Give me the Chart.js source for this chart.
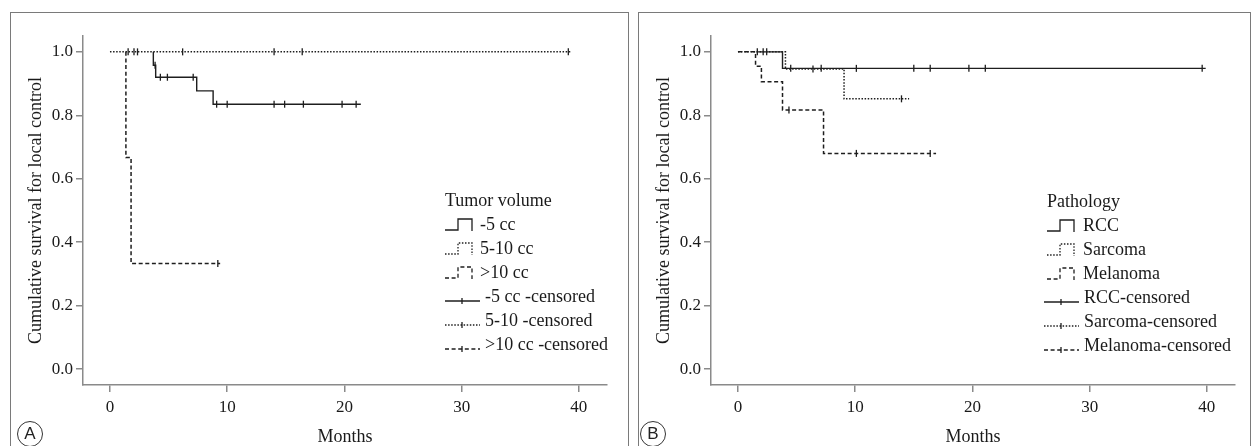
<!DOCTYPE html>
<html>
<head>
<meta charset="utf-8">
<script src="https://cdn.jsdelivr.net/npm/chart.js@4.4.1/dist/chart.umd.min.js"></script>
<style>
  html, body { margin: 0; padding: 0; background: #fff; }
  body { width: 1253px; height: 446px; position: relative; overflow: hidden; }
  .frame { position: absolute; top: 12px; height: 460px; border: 1px solid #7a7a7a; }
  .tag { position: absolute; top: 421px; width: 24px; height: 24px; border: 1px solid #333; border-radius: 50%;
         font: 17px "Liberation Sans", Arial, sans-serif; text-align: center; line-height: 24px; color: #222; }
  canvas { position: absolute; top: 0; }
</style>
</head>
<body>
<div class="frame" style="left:10px;width:617px"></div>
<div class="frame" style="left:638px;width:611px"></div>
<canvas id="chartA" width="630" height="446" style="left:0"></canvas>
<canvas id="chartB" width="623" height="446" style="left:630px"></canvas>
<div class="tag" style="left:17px">A</div>
<div class="tag" style="left:640px">B</div>
<script>
// Axis ticks
const monthTicks = [0, 10, 20, 30, 40];
const survivalTicks = [0, 0.2, 0.4, 0.6, 0.8, 1.0];

// Panel A - tumor volume
const volumeTitle = 'Tumor volume';
const volumeGroups = ['-5 cc', '5-10 cc', '>10 cc'];
const volumeCensorLabels = ['-5 cc -censored', '5-10 -censored', '>10 cc -censored'];

const vol5Months = [3.7, 3.7, 3.9, 7.4, 8.8, 21.4];
const vol5Surv = [1.0, 0.958, 0.92, 0.877, 0.835, 0.835];
const vol5CensorMonths = [3.85, 4.3, 4.9, 7.1, 9.1, 10.0, 14.0, 14.9, 16.5, 19.8, 21.0];
const vol5CensorSurv = [0.958, 0.92, 0.92, 0.92, 0.835, 0.835, 0.835, 0.835, 0.835, 0.835, 0.835];

const vol10Months = [0, 39.4];
const vol10Surv = [1.0, 1.0];
const vol10CensorMonths = [1.55, 2.05, 2.35, 6.2, 14.0, 16.4, 39.1];
const vol10CensorSurv = [1.0, 1.0, 1.0, 1.0, 1.0, 1.0, 1.0];

const volBigMonths = [1.36, 1.36, 1.8, 9.4];
const volBigSurv = [1.0, 0.667, 0.333, 0.333];
const volBigCensorMonths = [9.2];
const volBigCensorSurv = [0.333];

// Panel B - pathology
const pathTitle = 'Pathology';
const pathGroups = ['RCC', 'Sarcoma', 'Melanoma'];
const pathCensorLabels = ['RCC-censored', 'Sarcoma-censored', 'Melanoma-censored'];

const rccMonths = [1.6, 3.8, 39.9];
const rccSurv = [1.0, 0.948, 0.948];
const rccCensorMonths = [1.65, 2.15, 2.45, 4.5, 7.1, 10.1, 15.0, 16.4, 19.7, 21.1, 39.6];
const rccCensorSurv = [1.0, 1.0, 1.0, 0.948, 0.948, 0.948, 0.948, 0.948, 0.948, 0.948, 0.948];

const sarcMonths = [0, 4.05, 9.05, 14.6];
const sarcSurv = [1.0, 0.946, 0.852, 0.852];
const sarcCensorMonths = [6.4, 13.95];
const sarcCensorSurv = [0.946, 0.852];

const melMonths = [0, 1.5, 2.0, 3.8, 7.3, 16.9];
const melSurv = [1.0, 0.955, 0.906, 0.817, 0.68, 0.68];
const melCensorMonths = [4.35, 10.1, 16.4];
const melCensorSurv = [0.817, 0.68, 0.68];

const INK = '#1e1e1e';
const AXIS = '#8a8a8a';
const TEXT = '#1a1a1a';
const SERIF = '"Liberation Serif", "Times New Roman", serif';
const DASHES = [[], [1.5, 1.6], [4, 2.6]];

function curve(months, surv, dash) {
  return {
    data: months.map((m, i) => ({ x: m, y: surv[i] })),
    stepped: true,
    borderColor: INK,
    borderWidth: dash.length ? 1.5 : 1.4,
    borderDash: dash,
    pointRadius: 0,
    fill: false
  };
}

function censor(months, surv) {
  return {
    data: months.map((m, i) => ({ x: m, y: surv[i] })),
    showLine: false,
    pointStyle: 'line',
    pointRotation: 90,
    pointRadius: 3.5,
    pointBorderColor: INK,
    pointBorderWidth: 1.3
  };
}

// draws the SPSS style legend inside the plot
const kmLegend = {
  id: 'kmLegend',
  afterDraw(chart, args, opts) {
    const ctx = chart.ctx;
    const x0 = opts.x, y0 = opts.y, step = 24;
    ctx.save();
    ctx.font = `18px ${SERIF}`;
    ctx.fillStyle = TEXT;
    ctx.textBaseline = 'middle';
    ctx.strokeStyle = INK;
    ctx.lineWidth = 1.3;
    ctx.fillText(opts.title, x0, y0);
    opts.groups.forEach((label, i) => {
      const y = y0 + step * (i + 1);
      ctx.setLineDash(DASHES[i]);
      ctx.beginPath();
      ctx.moveTo(x0, y + 5);
      ctx.lineTo(x0 + 13, y + 5);
      ctx.lineTo(x0 + 13, y - 6);
      ctx.lineTo(x0 + 27, y - 6);
      ctx.lineTo(x0 + 27, y + 6);
      ctx.stroke();
      ctx.fillText(label, x0 + opts.groupDx, y);
    });
    opts.censorLabels.forEach((label, i) => {
      const y = y0 + step * (i + 4);
      const gx = x0 + opts.censorGx;
      ctx.setLineDash(DASHES[i]);
      ctx.beginPath();
      ctx.moveTo(gx, y + 4);
      ctx.lineTo(gx + 35, y + 4);
      ctx.stroke();
      ctx.setLineDash([]);
      ctx.beginPath();
      ctx.moveTo(gx + 17, y + 1);
      ctx.lineTo(gx + 17, y + 7);
      ctx.stroke();
      ctx.fillText(label, x0 + opts.censorDx, y);
    });
    ctx.restore();
  }
};

function scales(yWidth, titlePad) {
  return {
    x: {
      type: 'linear', min: -2.3, max: 42.4,
      afterBuildTicks: s => { s.ticks = monthTicks.map(v => ({ value: v })); },
      afterFit: s => { s.height = 61; },
      grid: { drawOnChartArea: false, drawTicks: true, tickLength: 7, color: AXIS, lineWidth: 1.5 },
      border: { display: true, color: AXIS, width: 1.5 },
      ticks: { color: TEXT, font: { family: SERIF, size: 17 }, padding: 5, maxRotation: 0 },
      title: { display: true, text: 'Months', color: TEXT, font: { family: SERIF, size: 18, lineHeight: 1 }, padding: { top: 0, bottom: 0 } }
    },
    y: {
      type: 'linear', min: -0.05, max: 1.05,
      afterBuildTicks: s => { s.ticks = survivalTicks.map(v => ({ value: v })); },
      afterFit: s => { s.width = yWidth; },
      grid: { drawOnChartArea: false, drawTicks: true, tickLength: 7, color: AXIS, lineWidth: 1.5 },
      border: { display: true, color: AXIS, width: 1.5 },
      ticks: { color: TEXT, font: { family: SERIF, size: 17 }, padding: 3, callback: v => v.toFixed(1) },
      title: { display: true, text: 'Cumulative survival for local control', color: TEXT,
               font: { family: SERIF, size: 18, lineHeight: 1 }, padding: { top: titlePad, bottom: 0 } }
    }
  };
}

function makeChart(id, datasets, legendOpts, yWidth, rightPad, titlePad) {
  return new Chart(document.getElementById(id), {
    type: 'line',
    data: { datasets: datasets },
    options: {
      responsive: false,
      animation: false,
      layout: { padding: { top: 36, right: rightPad, bottom: 0, left: 0 } },
      plugins: { legend: { display: false }, tooltip: { enabled: false }, kmLegend: legendOpts },
      scales: scales(yWidth, titlePad)
    },
    plugins: [kmLegend]
  });
}

makeChart('chartA', [
  censor(vol10CensorMonths, vol10CensorSurv),
  censor(vol5CensorMonths, vol5CensorSurv),
  censor(volBigCensorMonths, volBigCensorSurv),
  curve(vol10Months, vol10Surv, DASHES[1]),
  curve(vol5Months, vol5Surv, DASHES[0]),
  curve(volBigMonths, volBigSurv, DASHES[2])
], { x: 445, y: 201, title: volumeTitle, groups: volumeGroups, censorLabels: volumeCensorLabels,
     groupDx: 35, censorGx: 0, censorDx: 40 },
  83, 23, 27);

makeChart('chartB', [
  censor(rccCensorMonths, rccCensorSurv),
  censor(sarcCensorMonths, sarcCensorSurv),
  censor(melCensorMonths, melCensorSurv),
  curve(rccMonths, rccSurv, DASHES[0]),
  curve(sarcMonths, sarcSurv, DASHES[1]),
  curve(melMonths, melSurv, DASHES[2])
], { x: 417, y: 202, title: pathTitle, groups: pathGroups, censorLabels: pathCensorLabels,
     groupDx: 36, censorGx: -3, censorDx: 37 },
  81, 18, 25);
</script>
</body>
</html>
